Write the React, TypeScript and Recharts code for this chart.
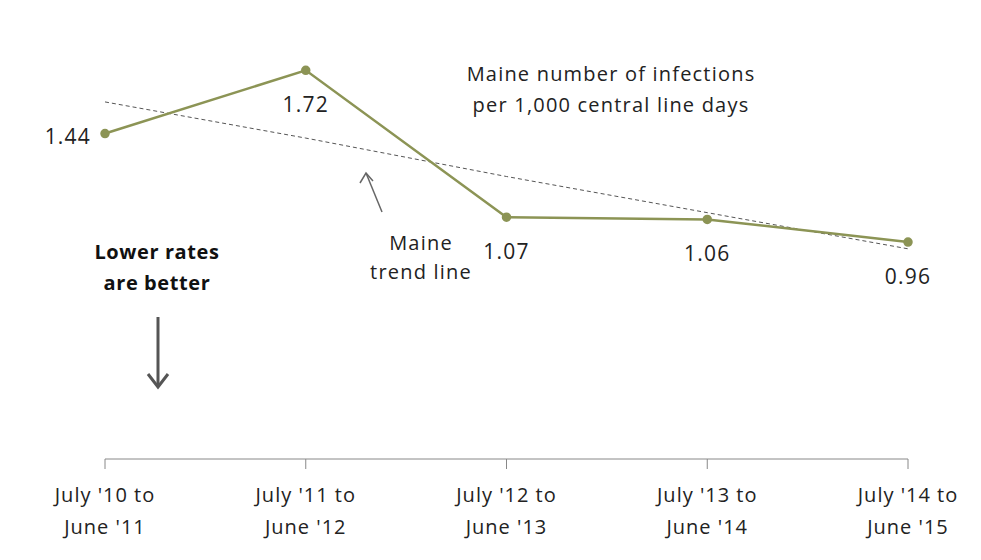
import { LineChart, Line, XAxis, YAxis, LabelList } from "recharts";

const periods = [
  "July '10 to|June '11",
  "July '11 to|June '12",
  "July '12 to|June '13",
  "July '13 to|June '14",
  "July '14 to|June '15",
];
const infectionRates = [1.44, 1.72, 1.07, 1.06, 0.96];
const trendValues = [1.58, 1.42, 1.25, 1.09, 0.93];

const data = periods.map((p, i) => ({
  period: p,
  rate: infectionRates[i],
  trend: trendValues[i],
}));

const FONT = "'Open Sans', 'Liberation Sans', sans-serif";

const PeriodTick = (props: any) => {
  const { x, y, payload } = props;
  const [l1, l2] = String(payload.value).split("|");
  return (
    <g transform={`translate(${x},${y})`}>
      <text textAnchor="middle" fontFamily={FONT} fontSize={20} letterSpacing={1} fill="#222">
        <tspan x={0} y={31}>{l1}</tspan>
        <tspan x={0} y={63}>{l2}</tspan>
      </text>
    </g>
  );
};

const RateLabel = (props: any) => {
  const { x, y, value, index } = props;
  if (index === 0) {
    return (
      <text x={x - 14} y={y + 10} textAnchor="end" fontFamily={FONT} fontSize={21} letterSpacing={1.2} fill="#222">
        {value.toFixed(2)}
      </text>
    );
  }
  return (
    <text x={x} y={y + 42} textAnchor="middle" fontFamily={FONT} fontSize={21} letterSpacing={1.2} fill="#222">
      {value.toFixed(2)}
    </text>
  );
};

export default function App() {
  return (
    <div style={{ position: "absolute", left: 0, top: 0, width: 981, height: 560, background: "#fff" }}>
      <LineChart
        width={981}
        height={560}
        data={data}
        margin={{ top: 7, right: 73, bottom: 71, left: 105 }}
      >
        <XAxis
          dataKey="period"
          tick={<PeriodTick />}
          tickLine={{ stroke: "#888" }}
          tickSize={10}
          axisLine={{ stroke: "#888" }}
          interval={0}
          height={30}
        />
        <YAxis hide domain={[0, 2]} />
        <Line
          dataKey="trend"
          stroke="#555"
          strokeWidth={1}
          strokeDasharray="4 3"
          dot={false}
          isAnimationActive={false}
        />
        <Line
          dataKey="rate"
          stroke="#8c9455"
          strokeWidth={2.5}
          dot={{ r: 3.5, fill: "#8c9455", stroke: "#8c9455" }}
          isAnimationActive={false}
        >
          <LabelList dataKey="rate" content={<RateLabel />} />
        </Line>
      </LineChart>
      <svg
        width={981}
        height={560}
        style={{ position: "absolute", left: 0, top: 0, pointerEvents: "none" }}
      >
        <text textAnchor="middle" fontFamily={FONT} fontSize={20} letterSpacing={1.2} fill="#222">
          <tspan x={611} y={81}>Maine number of infections</tspan>
          <tspan x={611} y={112}>per 1,000 central line days</tspan>
        </text>
        <text textAnchor="middle" fontFamily={FONT} fontSize={20} letterSpacing={1.2} fill="#222">
          <tspan x={421} y={250}>Maine</tspan>
          <tspan x={421} y={279}>trend line</tspan>
        </text>
        <line x1={382} y1={212} x2={366} y2={173} stroke="#666" strokeWidth={1.5} />
        <path d="M360,183 L366,173 L373,181" fill="none" stroke="#666" strokeWidth={1.5} />
        <text textAnchor="middle" fontFamily={FONT} fontSize={20} fontWeight="bold" letterSpacing={0.6} fill="#111">
          <tspan x={157} y={259}>Lower rates</tspan>
          <tspan x={157} y={290}>are better</tspan>
        </text>
        <line x1={158} y1={317} x2={158} y2={386} stroke="#555" strokeWidth={3} />
        <path d="M148,374 L158,387 L168,374" fill="none" stroke="#555" strokeWidth={3} />
      </svg>
    </div>
  );
}
